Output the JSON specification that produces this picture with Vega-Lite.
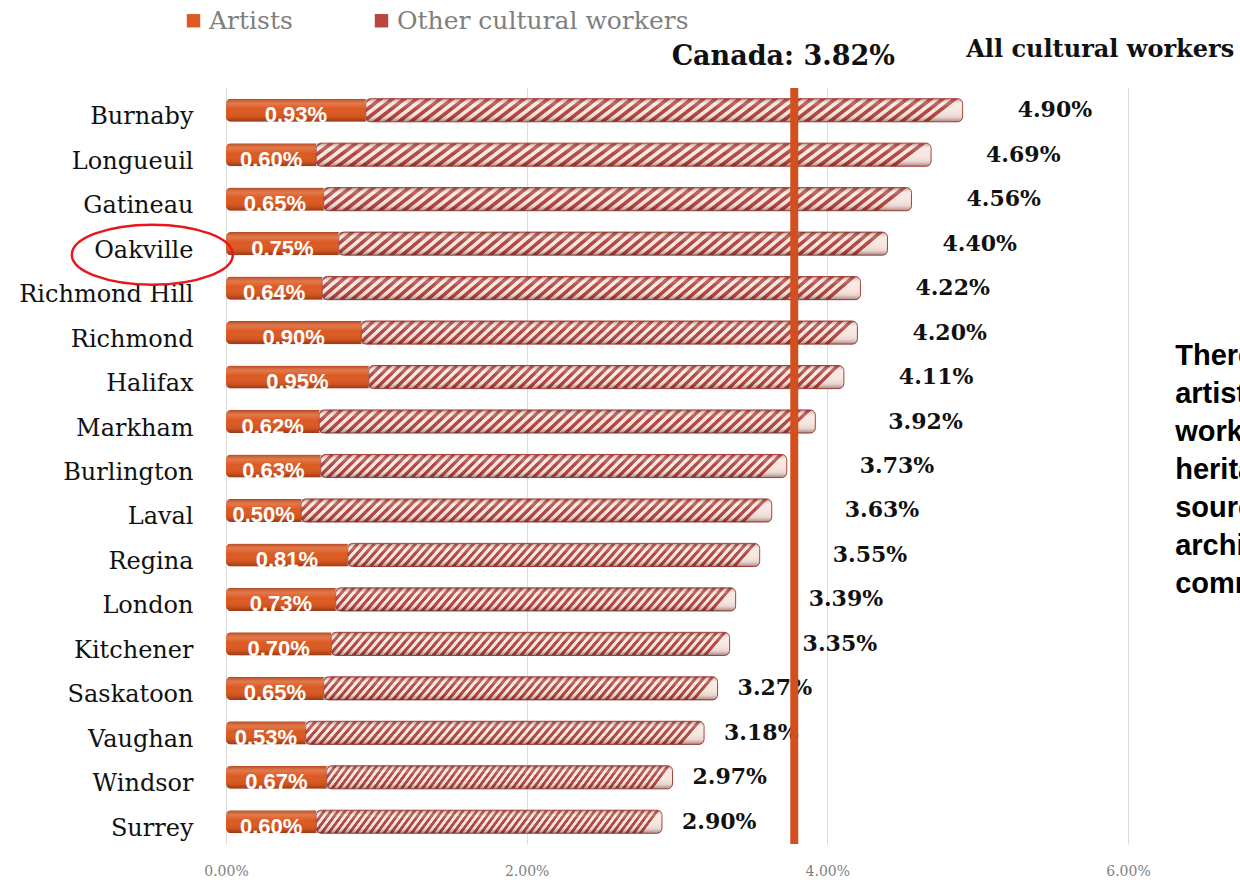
{
  "$schema": "https://vega.github.io/schema/vega-lite/v6.json",
  "width": 902,
  "height": 756,
  "autosize": {"type": "none"},
  "padding": {"left": 226, "top": 88, "right": 112, "bottom": 36},
  "background": "white",
  "data": {"values": [
    {"city": "Burnaby", "artists": 0.0093, "total": 0.0490},
    {"city": "Longueuil", "artists": 0.0060, "total": 0.0469},
    {"city": "Gatineau", "artists": 0.0065, "total": 0.0456},
    {"city": "Oakville", "artists": 0.0075, "total": 0.0440},
    {"city": "Richmond Hill", "artists": 0.0064, "total": 0.0422},
    {"city": "Richmond", "artists": 0.0090, "total": 0.0420},
    {"city": "Halifax", "artists": 0.0095, "total": 0.0411},
    {"city": "Markham", "artists": 0.0062, "total": 0.0392},
    {"city": "Burlington", "artists": 0.0063, "total": 0.0373},
    {"city": "Laval", "artists": 0.0050, "total": 0.0363},
    {"city": "Regina", "artists": 0.0081, "total": 0.0355},
    {"city": "London", "artists": 0.0073, "total": 0.0339},
    {"city": "Kitchener", "artists": 0.0070, "total": 0.0335},
    {"city": "Saskatoon", "artists": 0.0065, "total": 0.0327},
    {"city": "Vaughan", "artists": 0.0053, "total": 0.0318},
    {"city": "Windsor", "artists": 0.0067, "total": 0.0297},
    {"city": "Surrey", "artists": 0.0060, "total": 0.0290}
  ]},
  "config": {
    "view": {"stroke": null},
    "axisX": {"grid": true, "gridColor": "#dcdcdc", "gridWidth": 1, "domain": false, "ticks": false, "labelFont": "DejaVu Serif", "labelFontSize": 14, "labelColor": "#808080", "labelPadding": 20, "labelFlush": false},
    "axisY": {"grid": false, "domain": false, "ticks": false, "labelFont": "DejaVu Serif", "labelFontSize": 24, "labelColor": "#111111", "labelPadding": 33, "labelOffset": 7, "labelLimit": 300}
  },
  "layer": [
    {
      "layer": [
        {
          "mark": {"type": "bar", "cornerRadiusTopLeft": 5, "cornerRadiusBottomLeft": 5},
          "encoding": {
            "y": {"field": "city", "type": "nominal", "sort": null, "title": null, "scale": {"domain": ["Burnaby","Longueuil","Gatineau","Oakville","Richmond Hill","Richmond","Halifax","Markham","Burlington","Laval","Regina","London","Kitchener","Saskatoon","Vaughan","Windsor","Surrey"], "paddingInner": 0.48, "paddingOuter": 0.24}},
            "x": {"field": "artists", "type": "quantitative", "title": null, "scale": {"domain": [0, 0.06], "nice": false}, "axis": {"values": [0, 0.02, 0.04, 0.06], "format": ".2%"}},
            "color": {"datum": "Artists", "type": "nominal", "scale": {"domain": ["Artists", "Other cultural workers"], "range": ["#dc5a22", "#b8453f"]},
              "legend": {"orient": "none", "legendX": -45, "legendY": -80, "direction": "horizontal", "title": null, "symbolType": "square", "symbolSize": 180, "symbolStrokeWidth": 0, "labelFont": "DejaVu Serif", "labelFontSize": 25, "labelColor": "#7f7f7f", "labelOffset": 3, "columnPadding": 76, "labelLimit": 400, "padding": 0}}
          }
        },
        {
          "mark": {"type": "bar", "cornerRadiusEnd": 5, "stroke": "#a8403a", "strokeWidth": 1,
            "fill": {"gradient": "linear", "x1": 0, "y1": 0, "x2": 1, "y2": 0.05, "stops": [
{"offset":0.001,"color":"#b34842"},{"offset":0.009,"color":"#b34842"},{"offset":0.011,"color":"#f8e6e1"},{"offset":0.019,"color":"#f8e6e1"},
{"offset":0.021,"color":"#b34842"},{"offset":0.029,"color":"#b34842"},{"offset":0.031,"color":"#f8e6e1"},{"offset":0.039,"color":"#f8e6e1"},
{"offset":0.041,"color":"#b34842"},{"offset":0.049,"color":"#b34842"},{"offset":0.051,"color":"#f8e6e1"},{"offset":0.059,"color":"#f8e6e1"},
{"offset":0.061,"color":"#b34842"},{"offset":0.069,"color":"#b34842"},{"offset":0.071,"color":"#f8e6e1"},{"offset":0.079,"color":"#f8e6e1"},
{"offset":0.081,"color":"#b34842"},{"offset":0.089,"color":"#b34842"},{"offset":0.091,"color":"#f8e6e1"},{"offset":0.099,"color":"#f8e6e1"},
{"offset":0.101,"color":"#b34842"},{"offset":0.109,"color":"#b34842"},{"offset":0.111,"color":"#f8e6e1"},{"offset":0.119,"color":"#f8e6e1"},
{"offset":0.121,"color":"#b34842"},{"offset":0.129,"color":"#b34842"},{"offset":0.131,"color":"#f8e6e1"},{"offset":0.139,"color":"#f8e6e1"},
{"offset":0.141,"color":"#b34842"},{"offset":0.149,"color":"#b34842"},{"offset":0.151,"color":"#f8e6e1"},{"offset":0.159,"color":"#f8e6e1"},
{"offset":0.161,"color":"#b34842"},{"offset":0.169,"color":"#b34842"},{"offset":0.171,"color":"#f8e6e1"},{"offset":0.179,"color":"#f8e6e1"},
{"offset":0.181,"color":"#b34842"},{"offset":0.189,"color":"#b34842"},{"offset":0.191,"color":"#f8e6e1"},{"offset":0.199,"color":"#f8e6e1"},
{"offset":0.201,"color":"#b34842"},{"offset":0.209,"color":"#b34842"},{"offset":0.211,"color":"#f8e6e1"},{"offset":0.219,"color":"#f8e6e1"},
{"offset":0.221,"color":"#b34842"},{"offset":0.229,"color":"#b34842"},{"offset":0.231,"color":"#f8e6e1"},{"offset":0.239,"color":"#f8e6e1"},
{"offset":0.241,"color":"#b34842"},{"offset":0.249,"color":"#b34842"},{"offset":0.251,"color":"#f8e6e1"},{"offset":0.259,"color":"#f8e6e1"},
{"offset":0.261,"color":"#b34842"},{"offset":0.269,"color":"#b34842"},{"offset":0.271,"color":"#f8e6e1"},{"offset":0.279,"color":"#f8e6e1"},
{"offset":0.281,"color":"#b34842"},{"offset":0.289,"color":"#b34842"},{"offset":0.291,"color":"#f8e6e1"},{"offset":0.299,"color":"#f8e6e1"},
{"offset":0.301,"color":"#b34842"},{"offset":0.309,"color":"#b34842"},{"offset":0.311,"color":"#f8e6e1"},{"offset":0.319,"color":"#f8e6e1"},
{"offset":0.321,"color":"#b34842"},{"offset":0.329,"color":"#b34842"},{"offset":0.331,"color":"#f8e6e1"},{"offset":0.339,"color":"#f8e6e1"},
{"offset":0.341,"color":"#b34842"},{"offset":0.349,"color":"#b34842"},{"offset":0.351,"color":"#f8e6e1"},{"offset":0.359,"color":"#f8e6e1"},
{"offset":0.361,"color":"#b34842"},{"offset":0.369,"color":"#b34842"},{"offset":0.371,"color":"#f8e6e1"},{"offset":0.379,"color":"#f8e6e1"},
{"offset":0.381,"color":"#b34842"},{"offset":0.389,"color":"#b34842"},{"offset":0.391,"color":"#f8e6e1"},{"offset":0.399,"color":"#f8e6e1"},
{"offset":0.401,"color":"#b34842"},{"offset":0.409,"color":"#b34842"},{"offset":0.411,"color":"#f8e6e1"},{"offset":0.419,"color":"#f8e6e1"},
{"offset":0.421,"color":"#b34842"},{"offset":0.429,"color":"#b34842"},{"offset":0.431,"color":"#f8e6e1"},{"offset":0.439,"color":"#f8e6e1"},
{"offset":0.441,"color":"#b34842"},{"offset":0.449,"color":"#b34842"},{"offset":0.451,"color":"#f8e6e1"},{"offset":0.459,"color":"#f8e6e1"},
{"offset":0.461,"color":"#b34842"},{"offset":0.469,"color":"#b34842"},{"offset":0.471,"color":"#f8e6e1"},{"offset":0.479,"color":"#f8e6e1"},
{"offset":0.481,"color":"#b34842"},{"offset":0.489,"color":"#b34842"},{"offset":0.491,"color":"#f8e6e1"},{"offset":0.499,"color":"#f8e6e1"},
{"offset":0.501,"color":"#b34842"},{"offset":0.509,"color":"#b34842"},{"offset":0.511,"color":"#f8e6e1"},{"offset":0.519,"color":"#f8e6e1"},
{"offset":0.521,"color":"#b34842"},{"offset":0.529,"color":"#b34842"},{"offset":0.531,"color":"#f8e6e1"},{"offset":0.539,"color":"#f8e6e1"},
{"offset":0.541,"color":"#b34842"},{"offset":0.549,"color":"#b34842"},{"offset":0.551,"color":"#f8e6e1"},{"offset":0.559,"color":"#f8e6e1"},
{"offset":0.561,"color":"#b34842"},{"offset":0.569,"color":"#b34842"},{"offset":0.571,"color":"#f8e6e1"},{"offset":0.579,"color":"#f8e6e1"},
{"offset":0.581,"color":"#b34842"},{"offset":0.589,"color":"#b34842"},{"offset":0.591,"color":"#f8e6e1"},{"offset":0.599,"color":"#f8e6e1"},
{"offset":0.601,"color":"#b34842"},{"offset":0.609,"color":"#b34842"},{"offset":0.611,"color":"#f8e6e1"},{"offset":0.619,"color":"#f8e6e1"},
{"offset":0.621,"color":"#b34842"},{"offset":0.629,"color":"#b34842"},{"offset":0.631,"color":"#f8e6e1"},{"offset":0.639,"color":"#f8e6e1"},
{"offset":0.641,"color":"#b34842"},{"offset":0.649,"color":"#b34842"},{"offset":0.651,"color":"#f8e6e1"},{"offset":0.659,"color":"#f8e6e1"},
{"offset":0.661,"color":"#b34842"},{"offset":0.669,"color":"#b34842"},{"offset":0.671,"color":"#f8e6e1"},{"offset":0.679,"color":"#f8e6e1"},
{"offset":0.681,"color":"#b34842"},{"offset":0.689,"color":"#b34842"},{"offset":0.691,"color":"#f8e6e1"},{"offset":0.699,"color":"#f8e6e1"},
{"offset":0.701,"color":"#b34842"},{"offset":0.709,"color":"#b34842"},{"offset":0.711,"color":"#f8e6e1"},{"offset":0.719,"color":"#f8e6e1"},
{"offset":0.721,"color":"#b34842"},{"offset":0.729,"color":"#b34842"},{"offset":0.731,"color":"#f8e6e1"},{"offset":0.739,"color":"#f8e6e1"},
{"offset":0.741,"color":"#b34842"},{"offset":0.749,"color":"#b34842"},{"offset":0.751,"color":"#f8e6e1"},{"offset":0.759,"color":"#f8e6e1"},
{"offset":0.761,"color":"#b34842"},{"offset":0.769,"color":"#b34842"},{"offset":0.771,"color":"#f8e6e1"},{"offset":0.779,"color":"#f8e6e1"},
{"offset":0.781,"color":"#b34842"},{"offset":0.789,"color":"#b34842"},{"offset":0.791,"color":"#f8e6e1"},{"offset":0.799,"color":"#f8e6e1"},
{"offset":0.801,"color":"#b34842"},{"offset":0.809,"color":"#b34842"},{"offset":0.811,"color":"#f8e6e1"},{"offset":0.819,"color":"#f8e6e1"},
{"offset":0.821,"color":"#b34842"},{"offset":0.829,"color":"#b34842"},{"offset":0.831,"color":"#f8e6e1"},{"offset":0.839,"color":"#f8e6e1"},
{"offset":0.841,"color":"#b34842"},{"offset":0.849,"color":"#b34842"},{"offset":0.851,"color":"#f8e6e1"},{"offset":0.859,"color":"#f8e6e1"},
{"offset":0.861,"color":"#b34842"},{"offset":0.869,"color":"#b34842"},{"offset":0.871,"color":"#f8e6e1"},{"offset":0.879,"color":"#f8e6e1"},
{"offset":0.881,"color":"#b34842"},{"offset":0.889,"color":"#b34842"},{"offset":0.891,"color":"#f8e6e1"},{"offset":0.899,"color":"#f8e6e1"},
{"offset":0.901,"color":"#b34842"},{"offset":0.909,"color":"#b34842"},{"offset":0.911,"color":"#f8e6e1"},{"offset":0.919,"color":"#f8e6e1"},
{"offset":0.921,"color":"#b34842"},{"offset":0.929,"color":"#b34842"},{"offset":0.931,"color":"#f8e6e1"},{"offset":0.939,"color":"#f8e6e1"},
{"offset":0.941,"color":"#b34842"},{"offset":0.949,"color":"#b34842"},{"offset":0.951,"color":"#f8e6e1"},{"offset":0.959,"color":"#f8e6e1"},
{"offset":0.961,"color":"#b34842"},{"offset":0.969,"color":"#b34842"},{"offset":0.971,"color":"#f8e6e1"},{"offset":0.979,"color":"#f8e6e1"},
{"offset":0.981,"color":"#b34842"},{"offset":0.989,"color":"#b34842"},{"offset":0.991,"color":"#f8e6e1"},{"offset":0.999,"color":"#f8e6e1"}
            ]}},
          "encoding": {
            "y": {"field": "city", "type": "nominal", "sort": null, "title": null, "scale": {"domain": ["Burnaby","Longueuil","Gatineau","Oakville","Richmond Hill","Richmond","Halifax","Markham","Burlington","Laval","Regina","London","Kitchener","Saskatoon","Vaughan","Windsor","Surrey"], "paddingInner": 0.48, "paddingOuter": 0.24}},
            "x": {"field": "artists", "type": "quantitative", "title": null, "scale": {"domain": [0, 0.06], "nice": false}},
            "x2": {"field": "total"}
          }
        },
        {
          "mark": {"type": "bar", "cornerRadius": 5,
            "fill": {"gradient": "linear", "x1": 0, "y1": 0, "x2": 0, "y2": 1, "stops": [
              {"offset": 0, "color": "rgba(90,25,10,0.35)"},
              {"offset": 0.22, "color": "rgba(255,255,255,0.18)"},
              {"offset": 0.45, "color": "rgba(255,255,255,0)"},
              {"offset": 0.8, "color": "rgba(60,10,5,0.08)"},
              {"offset": 1, "color": "rgba(60,10,5,0.42)"}
            ]}},
          "encoding": {
            "y": {"field": "city", "type": "nominal", "sort": null, "title": null, "scale": {"domain": ["Burnaby","Longueuil","Gatineau","Oakville","Richmond Hill","Richmond","Halifax","Markham","Burlington","Laval","Regina","London","Kitchener","Saskatoon","Vaughan","Windsor","Surrey"], "paddingInner": 0.48, "paddingOuter": 0.24}},
            "x": {"field": "total", "type": "quantitative", "title": null, "scale": {"domain": [0, 0.06], "nice": false}}
          }
        },
        {
          "transform": [{"filter": "datum.total >= 0.0405"}],
          "mark": {"type": "text", "align": "left", "baseline": "middle", "dx": 55, "font": "DejaVu Serif", "fontWeight": "bold", "fontSize": 22, "color": "#111111"},
          "encoding": {
            "y": {"field": "city", "type": "nominal", "sort": null, "title": null, "scale": {"domain": ["Burnaby","Longueuil","Gatineau","Oakville","Richmond Hill","Richmond","Halifax","Markham","Burlington","Laval","Regina","London","Kitchener","Saskatoon","Vaughan","Windsor","Surrey"], "paddingInner": 0.48, "paddingOuter": 0.24}},
            "x": {"field": "total", "type": "quantitative", "title": null, "scale": {"domain": [0, 0.06], "nice": false}},
            "text": {"field": "total", "format": ".2%"}
          }
        },
        {
          "transform": [{"filter": "datum.total >= 0.033 && datum.total < 0.0405"}],
          "mark": {"type": "text", "align": "left", "baseline": "middle", "dx": 73, "font": "DejaVu Serif", "fontWeight": "bold", "fontSize": 22, "color": "#111111"},
          "encoding": {
            "y": {"field": "city", "type": "nominal", "sort": null, "title": null, "scale": {"domain": ["Burnaby","Longueuil","Gatineau","Oakville","Richmond Hill","Richmond","Halifax","Markham","Burlington","Laval","Regina","London","Kitchener","Saskatoon","Vaughan","Windsor","Surrey"], "paddingInner": 0.48, "paddingOuter": 0.24}},
            "x": {"field": "total", "type": "quantitative", "title": null, "scale": {"domain": [0, 0.06], "nice": false}},
            "text": {"field": "total", "format": ".2%"}
          }
        },
        {
          "transform": [{"filter": "datum.total < 0.033"}],
          "mark": {"type": "text", "align": "left", "baseline": "middle", "dx": 20, "font": "DejaVu Serif", "fontWeight": "bold", "fontSize": 22, "color": "#111111"},
          "encoding": {
            "y": {"field": "city", "type": "nominal", "sort": null, "title": null, "scale": {"domain": ["Burnaby","Longueuil","Gatineau","Oakville","Richmond Hill","Richmond","Halifax","Markham","Burlington","Laval","Regina","London","Kitchener","Saskatoon","Vaughan","Windsor","Surrey"], "paddingInner": 0.48, "paddingOuter": 0.24}},
            "x": {"field": "total", "type": "quantitative", "title": null, "scale": {"domain": [0, 0.06], "nice": false}},
            "text": {"field": "total", "format": ".2%"}
          }
        },
        {
          "data": {"values": [{"canada": 0.0378}]},
          "mark": {"type": "rule", "color": "#d24f1e", "strokeWidth": 8},
          "encoding": {
            "x": {"field": "canada", "type": "quantitative", "title": null, "scale": {"domain": [0, 0.06], "nice": false}}
          }
        },
        {
          "data": {"values": [{"canada": 0.0378, "city": "Burnaby", "label": "Canada: 3.82%"}]},
          "mark": {"type": "text", "align": "center", "baseline": "middle", "dx": -11, "dy": -53, "font": "DejaVu Serif", "fontWeight": "bold", "fontSize": 27, "color": "#111111"},
          "encoding": {
            "y": {"field": "city", "type": "nominal", "sort": null, "title": null, "scale": {"domain": ["Burnaby","Longueuil","Gatineau","Oakville","Richmond Hill","Richmond","Halifax","Markham","Burlington","Laval","Regina","London","Kitchener","Saskatoon","Vaughan","Windsor","Surrey"], "paddingInner": 0.48, "paddingOuter": 0.24}},
            "x": {"field": "canada", "type": "quantitative", "title": null, "scale": {"domain": [0, 0.06], "nice": false}},
            "text": {"field": "label"}
          }
        },
        {
          "data": {"values": [{"pos": 0.05815, "city": "Burnaby", "label": "All cultural workers"}]},
          "mark": {"type": "text", "align": "center", "baseline": "middle", "dy": -60, "font": "DejaVu Serif", "fontWeight": "bold", "fontSize": 24, "color": "#111111"},
          "encoding": {
            "y": {"field": "city", "type": "nominal", "sort": null, "title": null, "scale": {"domain": ["Burnaby","Longueuil","Gatineau","Oakville","Richmond Hill","Richmond","Halifax","Markham","Burlington","Laval","Regina","London","Kitchener","Saskatoon","Vaughan","Windsor","Surrey"], "paddingInner": 0.48, "paddingOuter": 0.24}},
            "x": {"field": "pos", "type": "quantitative", "title": null, "scale": {"domain": [0, 0.06], "nice": false}},
            "text": {"field": "label"}
          }
        },
        {
          "data": {"values": [{"pos": 0.06314, "city": "Halifax", "label": ["There are", "artists and", "workers in", "heritage,", "sources,", "archives,", "community"]}]},
          "mark": {"type": "text", "align": "left", "baseline": "middle", "dy": -21, "lineHeight": 38, "font": "Liberation Sans", "fontWeight": "bold", "fontSize": 29, "color": "#000000"},
          "encoding": {
            "y": {"field": "city", "type": "nominal", "sort": null, "title": null, "scale": {"domain": ["Burnaby","Longueuil","Gatineau","Oakville","Richmond Hill","Richmond","Halifax","Markham","Burlington","Laval","Regina","London","Kitchener","Saskatoon","Vaughan","Windsor","Surrey"], "paddingInner": 0.48, "paddingOuter": 0.24}},
            "x": {"field": "pos", "type": "quantitative", "title": null, "scale": {"domain": [0, 0.06], "nice": false}},
            "text": {"field": "label"}
          }
        },
        {
          "data": {"values": [{"pos": -0.0049, "city": "Oakville"}]},
          "mark": {"type": "point", "filled": false, "shape": "M-1,0.137A1,0.373,0,1,0,1,0.137A1,0.373,0,1,0,-1,0.137Z", "size": 25921, "stroke": "#e8161b", "strokeWidth": 2.5, "opacity": 1},
          "encoding": {
            "y": {"field": "city", "type": "nominal", "sort": null, "title": null, "scale": {"domain": ["Burnaby","Longueuil","Gatineau","Oakville","Richmond Hill","Richmond","Halifax","Markham","Burlington","Laval","Regina","London","Kitchener","Saskatoon","Vaughan","Windsor","Surrey"], "paddingInner": 0.48, "paddingOuter": 0.24}},
            "x": {"field": "pos", "type": "quantitative", "title": null, "scale": {"domain": [0, 0.06], "nice": false}}
          }
        }
      ]
    },
    {
      "mark": {"type": "text", "align": "center", "baseline": "alphabetic", "dy": 12, "font": "Liberation Sans", "fontWeight": "bold", "fontSize": 22, "color": "#ffffff"},
      "encoding": {
        "y": {"field": "city", "type": "nominal", "sort": null, "title": null, "scale": {"domain": ["Burnaby","Longueuil","Gatineau","Oakville","Richmond Hill","Richmond","Halifax","Markham","Burlington","Laval","Regina","London","Kitchener","Saskatoon","Vaughan","Windsor","Surrey"], "paddingInner": 0.48, "paddingOuter": 0.24}},
        "x": {"field": "artists", "type": "quantitative", "title": null, "scale": {"domain": [0, 0.12], "nice": false}, "axis": null},
        "text": {"field": "artists", "format": ".2%"}
      }
    }
  ],
  "resolve": {"scale": {"x": "independent"}}
}
